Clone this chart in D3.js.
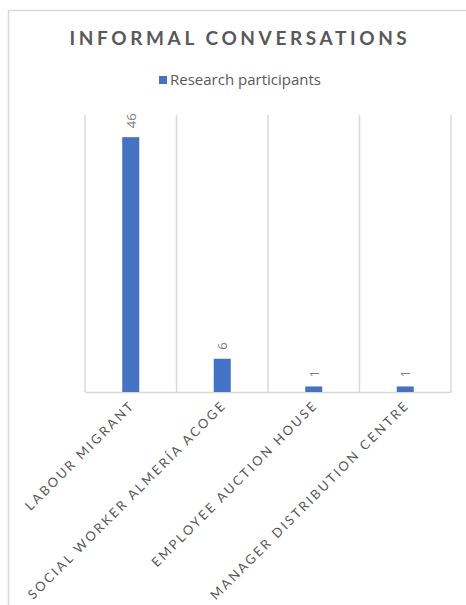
<!DOCTYPE html>
<html><head><meta charset="utf-8">
<script src="https://cdn.jsdelivr.net/npm/d3@7"></script>
<style>body{margin:0;background:#fff}svg{display:block}</style>
</head><body>
<script>
const categories = ["LABOUR MIGRANT", "SOCIAL WORKER ALMERÍA ACOGE", "EMPLOYEE AUCTION HOUSE", "MANAGER DISTRIBUTION CENTRE"];
const values = [46, 6, 1, 1];
const seriesName = "Research participants";
const title = "INFORMAL CONVERSATIONS";

const W = 466, H = 605;
const svg = d3.select("body").append("svg").attr("width", W).attr("height", H);
const font = "Lato, 'Open Sans', sans-serif";

svg.append("rect").attr("x", 8.5).attr("y", 10.5).attr("width", 500).attr("height", 700)
  .attr("fill", "#fff").attr("stroke", "#d9d9d9").attr("stroke-width", 1.5);

const plot = {left: 85, right: 451, top: 115, bottom: 392};
const x = d3.scaleBand().domain(categories).range([plot.left, plot.right]).paddingInner(0).paddingOuter(0);
const y = d3.scaleLinear().domain([0, 50]).range([plot.bottom, plot.top]);

svg.append("text").attr("x", 240).attr("y", 45).attr("text-anchor", "middle")
  .attr("font-family", font).attr("font-weight", "bold").attr("font-size", 19)
  .attr("letter-spacing", 3.6).attr("fill", "#595959").text(title);

// legend
svg.append("rect").attr("x", 159).attr("y", 76).attr("width", 8).attr("height", 8).attr("fill", "#4472c4");
svg.append("text").attr("x", 170).attr("y", 85).attr("font-family", "'Open Sans', sans-serif").attr("font-size", 15)
  .attr("fill", "#595959").text(seriesName);

// vertical gridlines at category boundaries
const bounds = categories.map(c => x(c)).concat([plot.right]);
svg.selectAll("line.grid").data(bounds).join("line").attr("class", "grid")
  .attr("x1", d => d).attr("x2", d => d).attr("y1", plot.top).attr("y2", plot.bottom)
  .attr("stroke", "#d9d9d9").attr("stroke-width", 1.5);

// baseline axis
const xAxis = svg.append("g").attr("transform", `translate(0,${plot.bottom})`)
  .call(d3.axisBottom(x).tickSize(0).tickFormat(""));
xAxis.select(".domain").attr("stroke", "#d9d9d9").attr("stroke-width", 1.5);

const barW = 17;
svg.selectAll("rect.bar").data(values).join("rect").attr("class", "bar")
  .attr("x", (d, i) => x(categories[i]) + x.bandwidth() / 2 - barW / 2)
  .attr("width", barW)
  .attr("y", d => y(d)).attr("height", d => y(0) - y(d)).attr("fill", "#4472c4");

// value labels
svg.selectAll("text.val").data(values).join("text").attr("class", "val")
  .attr("transform", (d, i) => `translate(${x(categories[i]) + x.bandwidth() / 2 + 5},${y(d) - 9}) rotate(-90)`)
  .attr("font-family", "'Open Sans', sans-serif").attr("font-size", 13).attr("fill", "#808080")
  .attr("text-anchor", "start").text(d => d);

// category labels
svg.selectAll("text.cat").data(categories).join("text").attr("class", "cat")
  .attr("transform", d => `translate(${x(d) + x.bandwidth() / 2 + 5},${plot.bottom + 14}) rotate(-45)`)
  .attr("font-family", font).attr("font-size", 13).attr("letter-spacing", 2.4)
  .attr("fill", "#595959").attr("text-anchor", "end").text(d => d);
</script>
</body></html>
